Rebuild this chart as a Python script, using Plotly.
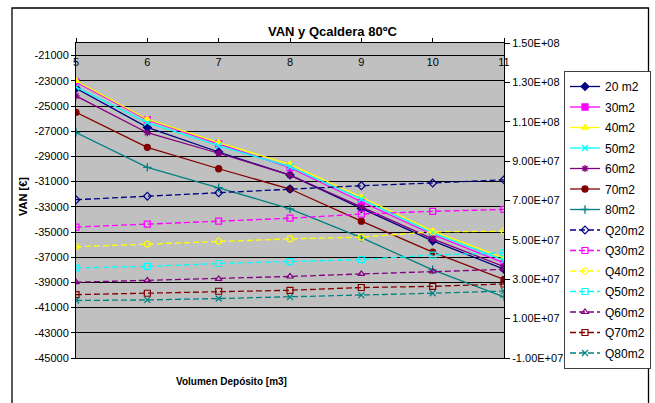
import plotly.graph_objects as go

# ---- data ----
volumes = [5, 6, 7, 8, 9, 10, 11]

van_names = ["20 m2", "30m2", "40m2", "50m2", "60m2", "70m2", "80m2"]
van_20 = [-23600, -26700, -28650, -30480, -33130, -35700, -37950]
van_30 = [-23100, -26100, -28000, -29900, -32600, -35200, -37450]
van_40 = [-23000, -26050, -27900, -29630, -32220, -34930, -37050]
van_50 = [-23500, -26320, -28150, -29820, -32400, -35070, -37250]
van_60 = [-24200, -27120, -28750, -30480, -33000, -35540, -37750]
van_70 = [-25500, -28280, -29980, -31590, -34140, -36600, -38770]
van_80 = [-27100, -29870, -31490, -33160, -35450, -38000, -40150]

q_names = ["Q20m2", "Q30m2", "Q40m2", "Q50m2", "Q60m2", "Q70m2", "Q80m2"]
q_20 = [7.04e7, 7.22e7, 7.39e7, 7.58e7, 7.75e7, 7.89e7, 8.05e7]
q_30 = [5.65e7, 5.80e7, 5.95e7, 6.10e7, 6.31e7, 6.45e7, 6.55e7]
q_40 = [4.65e7, 4.78e7, 4.93e7, 5.05e7, 5.14e7, 5.41e7, 5.44e7]
q_50 = [3.58e7, 3.65e7, 3.80e7, 3.90e7, 4.00e7, 4.23e7, 4.34e7]
q_60 = [2.85e7, 2.94e7, 3.02e7, 3.14e7, 3.27e7, 3.40e7, 3.50e7]
q_70 = [2.22e7, 2.29e7, 2.39e7, 2.44e7, 2.58e7, 2.64e7, 2.76e7]
q_80 = [1.92e7, 1.95e7, 2.02e7, 2.10e7, 2.19e7, 2.29e7, 2.40e7]

left_tickvals = [-21000, -23000, -25000, -27000, -29000, -31000, -33000,
                 -35000, -37000, -39000, -41000, -43000, -45000]
left_ticktext = ["-21000", "-23000", "-25000", "-27000", "-29000", "-31000", "-33000",
                 "-35000", "-37000", "-39000", "-41000", "-43000", "-45000"]
right_tickvals = [1.5e8, 1.3e8, 1.1e8, 9e7, 7e7, 5e7, 3e7, 1e7, -1e7]
right_ticktext = ["1.50E+08", "1.30E+08", "1.10E+08", "9.00E+07", "7.00E+07",
                  "5.00E+07", "3.00E+07", "1.00E+07", "-1.00E+07"]
x_ticktext = ["5", "6", "7", "8", "9", "10", "11"]

# ---- styles ----
colors = ["#000080", "#FF00FF", "#FFFF00", "#00FFFF", "#800080", "#800000", "#008080"]
van_symbols = ["diamond", "square", "triangle-up", "x-thin-open", "asterisk-open", "circle", "cross-thin-open"]
q_symbols = ["diamond-open", "square-open", "circle-open", "square-open", "triangle-up-open", "square-open", "x-thin-open"]

van_series = [van_20, van_30, van_40, van_50, van_60, van_70, van_80]
q_series = [q_20, q_30, q_40, q_50, q_60, q_70, q_80]

FONT = "Arial, Liberation Sans, sans-serif"

fig = go.Figure()
for i, (name, vals) in enumerate(zip(van_names, van_series)):
    fig.add_trace(go.Scatter(
        x=volumes, y=vals, name=name, mode="lines+markers", legendgroup=name,
        line=dict(color=colors[i], width=1.3),
        marker=dict(symbol=van_symbols[i], size=6, color=colors[i],
                    line=dict(color=colors[i], width=1.3)),
        xaxis="x", yaxis="y"))
for i, (name, vals) in enumerate(zip(q_names, q_series)):
    fig.add_trace(go.Scatter(
        x=volumes, y=vals, name=name, mode="lines+markers", legendgroup=name,
        line=dict(color=colors[i], width=1.3, dash="6px,3px"),
        marker=dict(symbol=q_symbols[i], size=6, color=colors[i],
                    line=dict(color=colors[i], width=1.2)),
        xaxis="x2", yaxis="y2"))

L, R, T, B = 76, 151, 43, 45
W, H = 655, 403
pw, ph = W - L - R, H - T - B

def px(xp):
    return (xp - L) / pw

def py(yp):
    return (H - B - yp) / ph

fig.update_layout(
    width=W, height=H,
    margin=dict(l=L, r=R, t=T, b=B, autoexpand=False),
    paper_bgcolor="white", plot_bgcolor="#C0C0C0",
    font=dict(family=FONT, size=11, color="black"),
    showlegend=True,
    legend=dict(x=px(564), y=py(71), xanchor="left", yanchor="top",
                bgcolor="white", bordercolor="#404040", borderwidth=1,
                font=dict(family=FONT, size=12, color="black"),
                tracegroupgap=1.5, traceorder="grouped",
                itemwidth=30),
    xaxis=dict(range=[5, 11], side="top", tickvals=volumes,
               ticks="outside", ticklen=4, tickcolor="black",
               showticklabels=False,
               showgrid=False, zeroline=False,
               showline=True, linecolor="black", linewidth=1, mirror=True),
    xaxis2=dict(range=[5, 11], matches="x", overlaying="x", anchor="free",
                position=py(54), side="bottom",
                tickvals=volumes, ticktext=x_ticktext, ticks="",
                showline=False, showgrid=False, zeroline=False,
                tickfont=dict(family=FONT, size=11, color="black")),
    yaxis=dict(range=[-45000, -20000], tickvals=left_tickvals, ticktext=left_ticktext,
               ticks="outside", ticklen=4, tickcolor="black",
               showgrid=True, gridcolor="black", gridwidth=1, zeroline=False,
               showline=True, linecolor="black", linewidth=1,
               tickfont=dict(family=FONT, size=11, color="black")),
    yaxis2=dict(range=[-1e7, 1.5e8], overlaying="y", side="right", anchor="x2",
                tickvals=right_tickvals, ticktext=right_ticktext,
                ticks="outside", ticklen=5, tickcolor="black",
                showgrid=False, zeroline=False,
                showline=True, linecolor="black", linewidth=1,
                tickfont=dict(family=FONT, size=11, color="black")),
    annotations=[
        dict(text="<b>VAN y Qcaldera 80ºC</b>", xref="paper", yref="paper",
             x=px(332), y=py(32), showarrow=False, xanchor="center", yanchor="middle",
             font=dict(family=FONT, size=13, color="black")),
        dict(text="<b>VAN [€]</b>", xref="paper", yref="paper",
             x=px(23), y=py(197), showarrow=False, xanchor="center", yanchor="middle",
             textangle=-90, font=dict(family=FONT, size=11, color="black")),
        dict(text="<b>Volumen Depósito [m3]</b>", xref="paper", yref="paper",
             x=px(231), y=py(381.5), showarrow=False, xanchor="center", yanchor="middle",
             font=dict(family=FONT, size=10, color="black")),
    ],
    shapes=[
        dict(type="rect", xref="paper", yref="paper",
             x0=px(12), x1=px(648.5), y0=py(415), y1=py(8),
             line=dict(color="black", width=1.3), fillcolor="rgba(0,0,0,0)", layer="below"),
    ],
)

fig.write_html("out.html", config={"displayModeBar": False},
               post_script="document.body.style.margin='0px';document.body.style.overflow='hidden';")
